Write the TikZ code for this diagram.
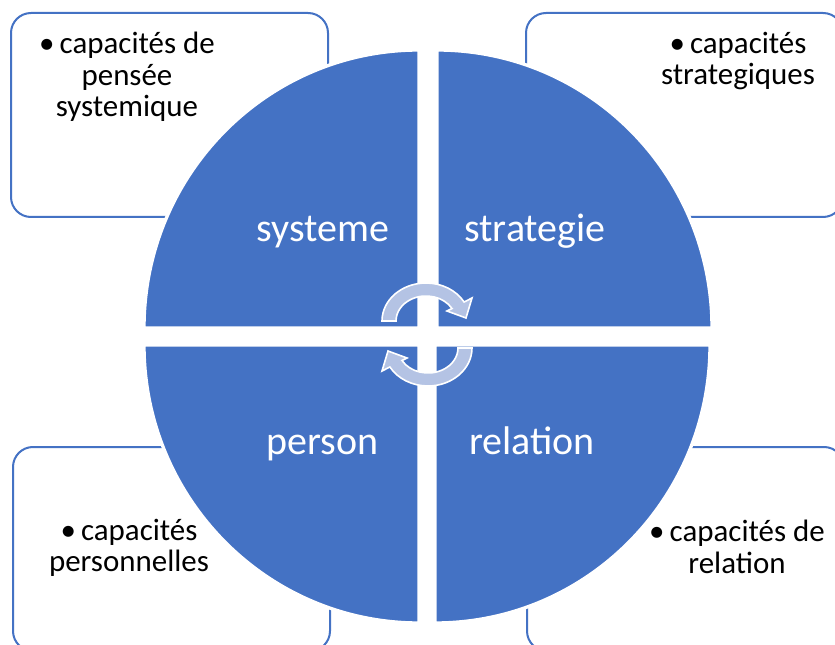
\documentclass[tikz,border=0pt]{standalone}
\usepackage{fontspec}
\setmainfont{Carlito}
\usepackage{tikz}
\usetikzlibrary{calc}
\definecolor{PieFill}{RGB}{68,114,196}
\definecolor{BoxLine}{RGB}{68,114,196}
\definecolor{CycFill}{RGB}{180,195,228}
\tikzset{
  nd_box/.style={draw=BoxLine,fill=white,line width=1.5pt,rounded corners=15pt},
  nd_pie/.style={fill=PieFill,draw=white,line width=2.5pt},
  nd_cyc/.style={fill=CycFill,draw=white,line width=1.2pt},
  nd_txt/.style={align=center,inner sep=0pt,font=\fontsize{23.2}{23.6}\selectfont},
  nd_lbl/.style={anchor=base,inner sep=0pt,text=white,font=\fontsize{30}{34}\selectfont},
}
% quarter disc: corner x, corner y, start angle
\newcommand{\quarterpie}[3]{%
  \filldraw[nd_pie](#1,#2)--({#1+275*cos(#3)},{#2+278*sin(#3)})
    arc[start angle=#3,delta angle=90,x radius=275,y radius=278]--cycle;}
% curved arrow round the local origin
\newcommand{\cycarrow}{%
  \filldraw[nd_cyc](-44,0) arc[start angle=180,end angle=30,x radius=44,y radius=38]
    --(46,23)--(40,3)--(21,10)--(26,12.5)
    arc[start angle=30,end angle=180,x radius=30,y radius=25]--cycle;}

\begin{document}
\begin{tikzpicture}[x=0.75pt,y=0.75pt]
\useasboundingbox (0,0) rectangle (835,-645);
\clip (0,0) rectangle (835,-645);
% outer boxes
\draw[nd_box](11,-13) rectangle (328,-217);
\draw[nd_box](526,-13) rectangle (843,-217);
\draw[nd_box](13,-447) rectangle (330,-651);
\draw[nd_box](527,-447) rectangle (844,-651);
\node[nd_txt](tS) at (127,-77){\textbullet\,capacités de\\pensée\\systemique};
\node[nd_txt](tT) at (738,-61){\textbullet\,capacités\\strategiques};
\node[nd_txt](tP) at (129,-548){\textbullet\,capacités\\personnelles};
\node[nd_txt](tR) at (737,-547){\textbullet\,capacités de\\relation};
% disc
\quarterpie{419}{-328}{90}
\quarterpie{437}{-328}{0}
\quarterpie{419}{-345}{180}
\quarterpie{435}{-345}{270}
\node[nd_lbl](lS) at (323,-241.6){systeme};
\node[nd_lbl](lT) at (535,-241.6){strategie};
\node[nd_lbl](lP) at (322.5,-454.8){person};
\node[nd_lbl](lR) at (532,-454.8){relation};
% arrows in the middle
\begin{scope}[shift={(426,-321)}]\cycarrow\end{scope}
\begin{scope}[shift={(428,-348)},rotate=180]\cycarrow\end{scope}
\end{tikzpicture}
\end{document}
